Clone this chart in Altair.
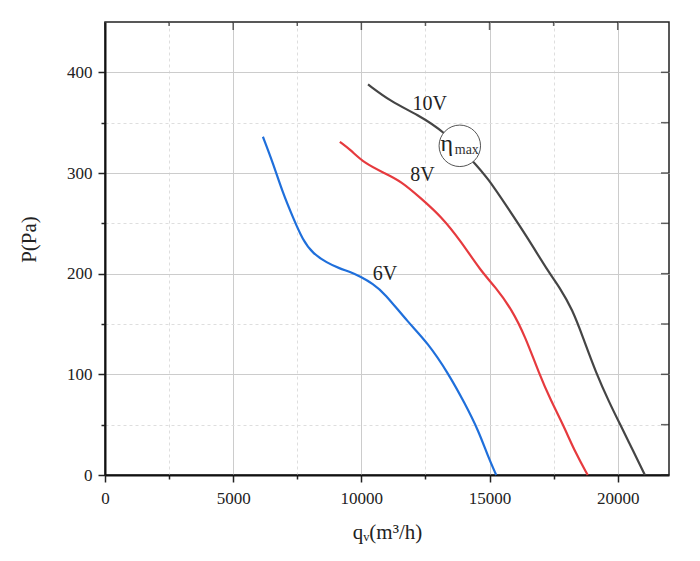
import altair as alt
import pandas as pd

# 6V curve
q_6v = [6160, 6550, 6940, 7330, 7720, 8110, 8650, 9160, 9550, 9970, 10450, 10890, 11810, 12600, 13390, 14040, 14570, 14960, 15260]
p_6v = [336, 310, 280, 256, 233, 220, 211, 205, 202, 197, 190, 181, 152, 131, 101, 71, 44, 17, 0]
# 8V curve
q_8v = [9160, 9580, 10100, 10890, 11540, 12320, 13110, 13890, 14650, 15220, 15880, 16400, 16930, 17390, 17850, 18370, 18830]
p_8v = [331, 323, 310, 300, 292, 275, 257, 232, 203, 187, 164, 137, 101, 74, 51, 21, 0]
# 10V curve
q_10v = [10260, 11150, 12190, 13240, 14350, 14930, 15720, 16500, 17290, 17720, 18240, 18640, 19160, 19690, 20080, 20600, 21060]
p_10v = [388, 371, 358, 341, 312, 295, 265, 235, 202, 187, 164, 137, 101, 71, 51, 24, 0]

series_names = ["6V", "8V", "10V"]
series_colors = ["#1f6fdb", "#e63a3e", "#454545"]

label_q = [10920, 12380, 12670]
label_p = [200, 298, 369]

eta_q = 13840
eta_p = 327

x_ticks = [0, 2500, 5000, 7500, 10000, 12500, 15000, 17500, 20000]
y_ticks = [0, 50, 100, 150, 200, 250, 300, 350, 400]

W, H = 564, 453

rows = []
for name, qs, ps in zip(series_names, [q_6v, q_8v, q_10v], [p_6v, p_8v, p_10v]):
    for i, (q, p) in enumerate(zip(qs, ps)):
        rows.append({"series": name, "q": q, "p": p, "order": i})
df = pd.DataFrame(rows)
labels_df = pd.DataFrame({"series": series_names, "q": label_q, "p": label_p})
eta_df = pd.DataFrame({"q": [eta_q], "p": [eta_p]})
xt_df = pd.DataFrame({"q": x_ticks, "major": [v % 5000 == 0 for v in x_ticks]})
yt_df = pd.DataFrame({"p": y_ticks})

FONT = "Liberation Serif"
xscale = alt.Scale(domain=[0, 22000], nice=False, zero=False)
yscale = alt.Scale(domain=[0, 450], nice=False, zero=False)

x_axis = alt.Axis(
    values=x_ticks, format="d", labelFlush=False,
    labelExpr="datum.value % 5000 === 0 ? datum.label : ''",
    tickSize={"condition": {"test": "datum.value % 5000 !== 0", "value": 4}, "value": 7},
    gridDash={"condition": {"test": "datum.value % 5000 !== 0", "value": [3, 3]}, "value": []},
    gridColor={"condition": {"test": "datum.value % 5000 !== 0", "value": "#dedede"}, "value": "#cccccc"},
    grid=True, gridWidth=1,
    domainColor="#111", domainWidth=2, tickColor="#222", tickWidth=1.5,
    labelFont=FONT, labelFontSize=17, labelColor="#222", labelPadding=8,
    title="qᵥ(m³/h)", titleFont=FONT, titleFontSize=21, titleFontWeight="normal",
    titleColor="#222", titleBaseline="alphabetic", titleY=63,
)
y_axis = alt.Axis(
    values=y_ticks, format="d", labelFlush=False,
    labelExpr="datum.value % 100 === 0 ? datum.label : ''",
    tickSize={"condition": {"test": "datum.value % 100 !== 0", "value": 4}, "value": 7},
    gridDash={"condition": {"test": "datum.value % 100 !== 0", "value": [3, 3]}, "value": []},
    gridColor={"condition": {"test": "datum.value % 100 !== 0", "value": "#dedede"}, "value": "#cccccc"},
    grid=True, gridWidth=1,
    domainColor="#111", domainWidth=2, tickColor="#222", tickWidth=1.5,
    labelFont=FONT, labelFontSize=17, labelColor="#222", labelPadding=6,
    title="P(Pa)", titleFont=FONT, titleFontSize=21, titleFontWeight="normal",
    titleColor="#222", titleX=-66, titleY=217,
)

lines = alt.Chart(df).mark_line(strokeWidth=2.2, interpolate="basis").encode(
    x=alt.X("q:Q", scale=xscale, axis=x_axis),
    y=alt.Y("p:Q", scale=yscale, axis=y_axis),
    color=alt.Color("series:N", scale=alt.Scale(domain=series_names, range=series_colors), legend=None),
    detail="series:N",
    order="order:Q",
)

series_text = alt.Chart(labels_df).mark_text(font=FONT, fontSize=20, color="#222", baseline="middle").encode(
    x="q:Q", y="p:Q", text="series:N"
)

circle = alt.Chart(eta_df).mark_point(shape="circle", size=1720, filled=False, fill="white",
                                     fillOpacity=1, stroke="#555", strokeWidth=1, opacity=1).encode(
    x="q:Q", y="p:Q"
)
eta_text = alt.Chart(eta_df).mark_text(font=FONT, fontSize=24, color="#222", baseline="middle", dx=-13, dy=-2).encode(
    x="q:Q", y="p:Q", text=alt.value("η")
)
max_text = alt.Chart(eta_df).mark_text(font=FONT, fontSize=14, color="#333", baseline="middle", dx=7, dy=4).encode(
    x="q:Q", y="p:Q", text=alt.value("max")
)

top_major = alt.Chart(xt_df).transform_filter("datum.major").mark_tick(
    orient="vertical", thickness=1.5, color="#222", size=8
).encode(x="q:Q", y=alt.value(4))
top_minor = alt.Chart(xt_df).transform_filter("!datum.major").mark_tick(
    orient="vertical", thickness=1.5, color="#222", size=4
).encode(x="q:Q", y=alt.value(2))
right_ticks = alt.Chart(yt_df).mark_tick(
    orient="horizontal", thickness=1.5, color="#222", size=8
).encode(y="p:Q", x=alt.value(W - 4))

chart = alt.layer(lines, circle, eta_text, max_text, series_text, top_major, top_minor, right_ticks).properties(
    width=W, height=H,
    autosize=alt.AutoSizeParams(type="none"),
    padding={"left": 97, "top": 14, "right": 23, "bottom": 70},
    background="white",
).configure_view(stroke="#222", strokeWidth=1.5)

chart.save("out.html", embed_options={"renderer": "svg", "actions": False})
